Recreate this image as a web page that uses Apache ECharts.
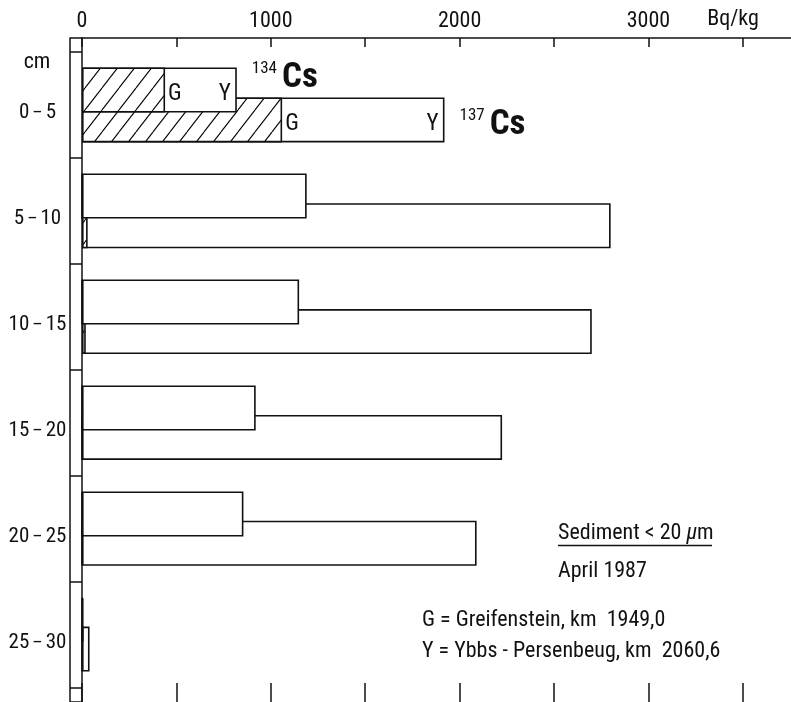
<!DOCTYPE html>
<html>
<head>
<meta charset="utf-8">
<script src="https://cdn.jsdelivr.net/npm/echarts@6/dist/echarts.min.js"></script>
<style>
  html, body { margin: 0; padding: 0; background: #fff; }
  #chart { width: 791px; height: 702px; }
</style>
</head>
<body>
<div id="chart"></div>
<script>
// Sediment depth layers (cm)
const depths = ['0 – 5', '5 – 10', '10 – 15', '15 – 20', '20 – 25', '25 – 30'];
// Activity in Bq/kg: Y = Ybbs-Persenbeug (total bar), G = Greifenstein (hatched part)
const cs134Y = [820, 1190, 1150, 920, 855, 8];
const cs134G = [440, 0, 0, 0, 0, 0];
const cs137Y = [1920, 2800, 2700, 2225, 2090, 40];
const cs137G = [1060, 30, 20, 0, 0, 0];
// Tick marks and labelled values on the activity axis
const xTicks = [0, 500, 1000, 1500, 2000, 2500, 3000, 3500];
const xTickLabels = [0, 1000, 2000, 3000];
const massNumbers = ['134', '137'];

const FONT = '"Roboto Condensed", "DejaVu Sans Condensed", sans-serif';
const INK = '#111';
const PX_PER_UNIT = 0.1888;
const GRID_LEFT = 82;
const X_MAX = (791 - GRID_LEFT) / PX_PER_UNIT;

// diagonal hatching for the Greifenstein bars
function hatchPattern() {
  const w = 17, h = 22;
  const c = document.createElement('canvas');
  c.width = w; c.height = h;
  const g = c.getContext('2d');
  g.fillStyle = '#fff';
  g.fillRect(0, 0, w, h);
  g.strokeStyle = '#000';
  g.lineWidth = 1.1;
  for (const dx of [-w, 0, w]) {
    g.beginPath();
    g.moveTo(dx, h);
    g.lineTo(dx + w, 0);
    g.stroke();
  }
  return { image: c, repeat: 'repeat' };
}
const HATCH = hatchPattern();

const chart = echarts.init(document.getElementById('chart'), null, { renderer: 'canvas' });

const hiddenX = (gi) => ({ type: 'value', gridIndex: gi, min: 0, max: X_MAX, show: false });
const hiddenY = (gi) => ({ type: 'category', gridIndex: gi, data: depths, inverse: true, show: false });

const letterLabel = (txt, pos, dist) => ({
  show: true, position: pos, distance: dist, offset: [0, 4],
  formatter: txt, color: INK, fontFamily: FONT, fontSize: 23
});

// only the top layer carries the G / Y letters
const withLetter = (arr, label) => arr.map((v, i) => i === 0 ? { value: v, label } : v);

const isotopeMark = (value, mass, dy) => ({
  symbol: 'circle', symbolSize: 0, silent: true, animation: false,
  data: [{
    coord: [value, depths[0]],
    label: {
      show: true, position: 'right', distance: 15, offset: [0, dy],
      formatter: '{s|' + mass + '}{c|Cs}',
      rich: {
        s: { fontFamily: FONT, fontSize: 17, color: INK, verticalAlign: 'top', padding: [0, 5, 0, 0] },
        c: { fontFamily: FONT, fontSize: 35, fontWeight: 'bold', color: INK, lineHeight: 36 }
      }
    }
  }]
});

const barBase = {
  type: 'bar', barWidth: 45, barGap: '-100%', silent: true, animation: false
};

const option = {
  animation: false,
  grid: [
    { left: GRID_LEFT, right: 0, top: 38, height: 674 },   // frame with value scales
    { left: GRID_LEFT, right: 0, top: 52, height: 636 },   // depth ruler
    { left: GRID_LEFT, right: 0, top: 37, height: 636 },   // 134Cs bars
    { left: GRID_LEFT, right: 0, top: 67, height: 636 }    // 137Cs bars
  ],
  xAxis: [
    {
      type: 'value', gridIndex: 0, position: 'top', min: 0, max: X_MAX,
      axisLine: { show: true, onZero: false, lineStyle: { color: INK, width: 1.5 } },
      axisTick: { show: true, inside: true, length: 9, customValues: xTicks, lineStyle: { color: INK, width: 1.5 } },
      axisLabel: {
        show: true, margin: 6, color: INK, fontFamily: FONT, fontSize: 22,
        customValues: xTickLabels,
        formatter: v => String(v)
      },
      splitLine: { show: false }
    },
    {
      type: 'value', gridIndex: 0, position: 'bottom', min: 0, max: X_MAX,
      axisLine: { show: false, onZero: false },
      axisTick: { show: true, inside: true, length: 19, customValues: xTicks, lineStyle: { color: INK, width: 1.5 } },
      axisLabel: { show: false },
      splitLine: { show: false }
    },
    hiddenX(1), hiddenX(2), hiddenX(3)
  ],
  yAxis: [
    {
      type: 'value', gridIndex: 0, position: 'left', min: 0, max: 1, interval: 1,
      axisLine: { show: true, onZero: false, lineStyle: { color: INK, width: 1.5 } },
      axisTick: { show: true, inside: false, length: 12, lineStyle: { color: INK, width: 1.5 } },
      axisLabel: { show: false }, splitLine: { show: false }
    },
    {
      type: 'value', gridIndex: 0, position: 'left', offset: 12, min: 0, max: 1,
      axisLine: { show: true, onZero: false, lineStyle: { color: INK, width: 1.5 } },
      axisTick: { show: false }, axisLabel: { show: false }, splitLine: { show: false }
    },
    {
      type: 'category', gridIndex: 1, data: depths, inverse: true,
      axisLine: { show: false },
      axisTick: { show: true, inside: false, length: 12, interval: 0, lineStyle: { color: INK, width: 1.5 } },
      axisLabel: {
        show: true, interval: 0, margin: 44.5, align: 'center',
        padding: [16, 0, 0, 0],
        formatter: v => {
          const [a, b] = v.split(' – ');
          return '{d|' + a + '}{s|–}{d|' + b + '}';
        },
        rich: {
          d: { fontFamily: FONT, fontSize: 21, color: INK },
          s: { fontFamily: FONT, fontSize: 18, color: INK, padding: [0, 3, 0, 3] }
        }
      },
      splitLine: { show: false }
    },
    hiddenY(2), hiddenY(3)
  ],
  series: [
    Object.assign({}, barBase, {
      name: '137Cs Y', xAxisIndex: 4, yAxisIndex: 4,
      data: withLetter(cs137Y, letterLabel('Y', 'insideRight', 6)),
      itemStyle: { color: '#fff', borderColor: INK, borderWidth: 1.6 },
      markPoint: isotopeMark(cs137Y[0], massNumbers[1], 5)
    }),
    Object.assign({}, barBase, {
      name: '137Cs G', xAxisIndex: 4, yAxisIndex: 4,
      data: withLetter(cs137G, letterLabel('G', 'right', 3)),
      itemStyle: { color: HATCH, borderColor: INK, borderWidth: 1.6 }
    }),
    Object.assign({}, barBase, {
      name: '134Cs Y', xAxisIndex: 3, yAxisIndex: 3,
      data: withLetter(cs134Y, letterLabel('Y', 'insideRight', 6)),
      itemStyle: { color: '#fff', borderColor: INK, borderWidth: 1.6 },
      markPoint: isotopeMark(cs134Y[0], massNumbers[0], -12)
    }),
    Object.assign({}, barBase, {
      name: '134Cs G', xAxisIndex: 3, yAxisIndex: 3,
      data: withLetter(cs134G, letterLabel('G', 'right', 3)),
      itemStyle: { color: HATCH, borderColor: INK, borderWidth: 1.6 }
    })
  ],
  graphic: [
    { type: 'text', x: 733, y: 19, style: { text: 'Bq/kg', font: '22px ' + FONT, fill: INK, align: 'center', verticalAlign: 'middle' } },
    { type: 'text', x: 37, y: 62, style: { text: 'cm', font: '22px ' + FONT, fill: INK, align: 'center', verticalAlign: 'middle' } },
    {
      type: 'text', x: 558, y: 533,
      style: {
        text: '{n|Sediment < 20 }{mu|µ}{n|m}', fill: INK, verticalAlign: 'middle',
        rich: {
          n: { fontFamily: FONT, fontSize: 22, color: INK },
          mu: { fontFamily: FONT, fontSize: 22, fontStyle: 'italic', color: INK }
        }
      }
    },
    { type: 'line', shape: { x1: 558, y1: 545.5, x2: 712, y2: 545.5 }, style: { stroke: INK, lineWidth: 1.5 } },
    { type: 'text', x: 558, y: 571, style: { text: 'April 1987', font: '22px ' + FONT, fill: INK, verticalAlign: 'middle' } },
    { type: 'text', x: 422, y: 620, style: { text: 'G = Greifenstein, km  1949,0', font: '22px ' + FONT, fill: INK, verticalAlign: 'middle' } },
    { type: 'text', x: 422, y: 651, style: { text: 'Y = Ybbs - Persenbeug, km  2060,6', font: '22px ' + FONT, fill: INK, verticalAlign: 'middle' } }
  ]
};

chart.setOption(option);
</script>
</body>
</html>
